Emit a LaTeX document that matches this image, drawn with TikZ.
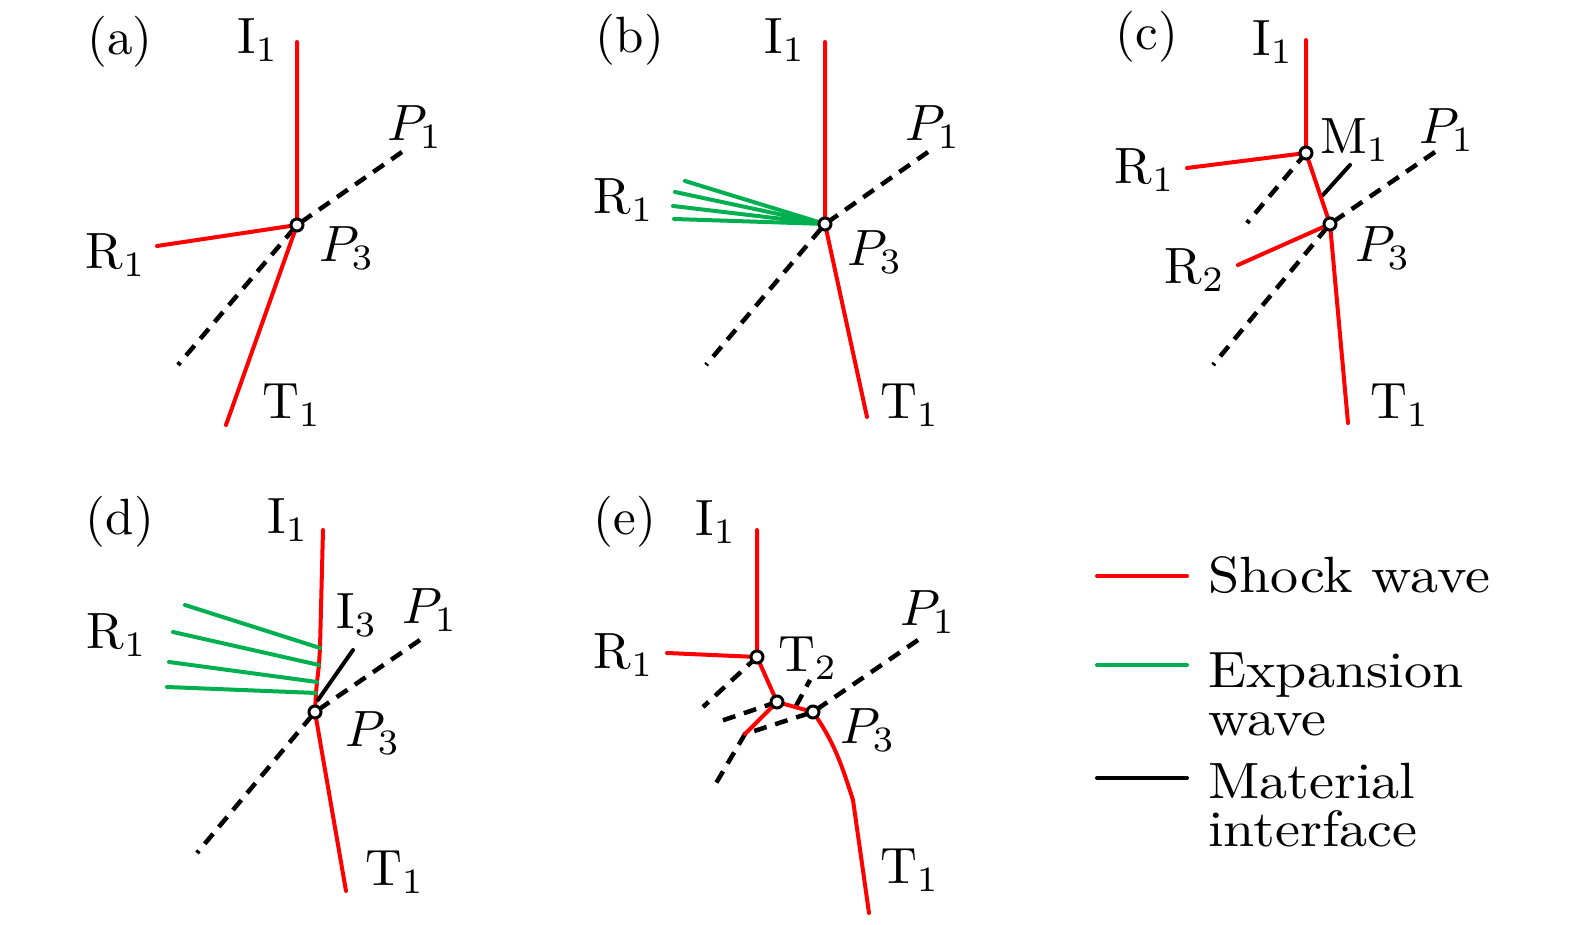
\documentclass[tikz,border=0pt]{standalone}
\usepackage{tikz}
\usetikzlibrary{positioning}
\definecolor{shockred}{RGB}{255,0,0}
\definecolor{fangreen}{RGB}{0,176,80}

\begin{document}
\begin{tikzpicture}[
  x=0.01cm, y=-0.01cm,
  lab/.style={inner sep=0pt, font=\fontsize{10}{9.4}\selectfont, scale=1.45, transform shape},
  keytext/.style={lab, xscale=1.1},
  shock/.style={draw=shockred, line width=0.04cm, line cap=round, line join=round},
  expan/.style={draw=fangreen, line width=0.04cm, line cap=round},
  mat/.style={draw=black, line width=0.04cm, line cap=round},
  pth/.style={draw=black, line width=0.045cm, dash pattern=on 0.13cm off 0.09cm},
  pt/.style={circle, draw, fill=white, line width=0.03cm, inner sep=0pt, minimum size=0.12cm}
]
  \useasboundingbox (0,0) rectangle (1575,925);

  % (a)
  \coordinate (aP3) at (297,225);
  \coordinate (aI) at (297,42);
  \coordinate (aR) at (157,246);
  \coordinate (aT) at (226,425);
  \coordinate (aPa) at (402,152);
  \coordinate (aPb) at (178,365);
  \draw[pth] (aPa) -- (aP3) -- (aPb);
  \draw[shock] (aI) -- (aP3) -- (aT);
  \draw[shock] (aR) -- (aP3);
  \node[pt] (aJ) at (aP3) {};
  \node[lab] (aTag) at (120,42) {(a)};
  \node[lab] (aIl) at (258,40) {I$_1$};
  \node[lab] (aP1l) at (415,127) {$P_1$};
  \node[lab] (aRl) at (116,255) {R$_1$};
  \node[lab] (aP3l) at (347,248) {$P_3$};
  \node[lab] (aTl) at (292,405) {T$_1$};

  % (b)
  \coordinate (bP3) at (825,224);
  \coordinate (bI) at (825,42);
  \coordinate (bT) at (867,417);
  \coordinate (bPa) at (928,152);
  \coordinate (bPb) at (706,365);
  \draw[pth] (bPa) -- (bP3) -- (bPb);
  \draw[shock] (bI) -- (bP3) -- (bT);
  \foreach \x/\y in {685/181, 675/192, 673/206, 674/219}
    \draw[expan] (\x,\y) -- (bP3);
  \node[pt] (bJ) at (bP3) {};
  \node[lab] (bTag) at (630,40) {(b)};
  \node[lab] (bIl) at (785,40) {I$_1$};
  \node[lab] (bP1l) at (933,127) {$P_1$};
  \node[lab] (bRl) at (624,200) {R$_1$};
  \node[lab] (bP3l) at (875,252) {$P_3$};
  \node[lab] (bTl) at (910,405) {T$_1$};

  % (c)
  \coordinate (cM1) at (1306,153);
  \coordinate (cP3) at (1330,224);
  \coordinate (cI) at (1306,40);
  \coordinate (cR1) at (1187,168);
  \coordinate (cR2) at (1238,265);
  \coordinate (cT) at (1348,423);
  \coordinate (cPa) at (1435,152);
  \coordinate (cPb) at (1213,365);
  \coordinate (cMd) at (1247,223);
  \coordinate (cMa) at (1323,195);
  \coordinate (cMb) at (1350,165);
  \draw[pth] (cPa) -- (cP3) -- (cPb);
  \draw[pth] (cM1) -- (cMd);
  \draw[mat] (cMa) -- (cMb);
  \draw[shock] (cI) -- (cM1) -- (cP3) -- (cT);
  \draw[shock] (cR1) -- (cM1);
  \draw[shock] (cR2) -- (cP3);
  \node[pt] (cJm) at (cM1) {};
  \node[pt] (cJp) at (cP3) {};
  \node[lab] (cTag) at (1147,37) {(c)};
  \node[lab] (cIl) at (1273,42) {I$_1$};
  \node[lab] (cMl) at (1355,140) {M$_1$};
  \node[lab] (cP1l) at (1447,130) {$P_1$};
  \node[lab] (cR1l) at (1145,170) {R$_1$};
  \node[lab] (cR2l) at (1195,270) {R$_2$};
  \node[lab] (cP3l) at (1383,248) {$P_3$};
  \node[lab] (cTl) at (1400,405) {T$_1$};

  % (d)
  \coordinate (dP3) at (315,712);
  \coordinate (dI) at (323,530);
  \coordinate (dF1) at (320,648);
  \coordinate (dF2) at (319,665);
  \coordinate (dF3) at (317,682);
  \coordinate (dF4) at (316,693);
  \coordinate (dT) at (346,891);
  \coordinate (dPa) at (420,640);
  \coordinate (dPb) at (197,853);
  \coordinate (dMa) at (318,700);
  \coordinate (dMb) at (353,650);
  \draw[pth] (dPa) -- (dP3) -- (dPb);
  \draw[shock] (dI) -- (dF1) -- (dF2) -- (dF3) -- (dF4) -- (dP3) -- (dT);
  \draw[expan] (185,605) -- (dF1);
  \draw[expan] (173,632) -- (dF2);
  \draw[expan] (169,662) -- (dF3);
  \draw[expan] (167,687) -- (dF4);
  \draw[mat] (dMa) -- (dMb);
  \node[pt] (dJ) at (dP3) {};
  \node[lab] (dTag) at (120,522) {(d)};
  \node[lab] (dIl) at (288,520) {I$_1$};
  \node[lab] (dI3l) at (357,615) {I$_3$};
  \node[lab] (dP1l) at (430,610) {$P_1$};
  \node[lab] (dRl) at (117,635) {R$_1$};
  \node[lab] (dP3l) at (373,733) {$P_3$};
  \node[lab] (dTl) at (395,872) {T$_1$};

  % (e)
  \coordinate (eA) at (757,657);
  \coordinate (eB) at (777,702);
  \coordinate (eP3) at (813,712);
  \coordinate (eC) at (745,734);
  \coordinate (eD) at (715,785);
  \coordinate (eI) at (757,530);
  \coordinate (eR) at (667,653);
  \coordinate (eK) at (853,800);
  \coordinate (eT) at (869,913);
  \coordinate (ePa) at (918,640);
  \coordinate (eAd) at (703,707);
  \coordinate (eBd) at (715,723);
  \coordinate (eMa) at (796,706);
  \coordinate (eMb) at (810,680);
  \draw[pth] (ePa) -- (eP3) -- (eC) -- (eD);
  \draw[pth] (eA) -- (eAd);
  \draw[pth] (eB) -- (eBd);
  \draw[pth] (eMa) -- (eMb);
  \draw[shock] (eI) -- (eA) -- (eB) -- (eP3) to[out=-55,in=108] (eK) -- (eT);
  \draw[shock] (eR) -- (eA);
  \draw[shock] (eB) -- (eC);
  \node[pt] (eJa) at (eA) {};
  \node[pt] (eJb) at (eB) {};
  \node[pt] (eJp) at (eP3) {};
  \node[lab] (eTag) at (625,522) {(e)};
  \node[lab] (eIl) at (716,522) {I$_1$};
  \node[lab] (eRl) at (624,655) {R$_1$};
  \node[lab] (eT2l) at (808,658) {T$_2$};
  \node[lab] (eP1l) at (928,612) {$P_1$};
  \node[lab] (eP3l) at (868,730) {$P_3$};
  \node[lab] (eTl) at (910,870) {T$_1$};

  % legend
  \coordinate (kS1) at (1097,576);
  \coordinate (kS2) at (1187,576);
  \coordinate (kE1) at (1097,665);
  \coordinate (kE2) at (1187,665);
  \coordinate (kM1) at (1097,778);
  \coordinate (kM2) at (1187,778);
  \draw[shock] (kS1) -- (kS2);
  \draw[expan] (kE1) -- (kE2);
  \draw[mat] (kM1) -- (kM2);
  \node[keytext, anchor=base west] (kShock) at (1207,593) {Shock wave};
  \node[keytext, anchor=north west, align=left] (kExp) at (1207,652) {Expansion\\wave};
  \node[keytext, anchor=north west, align=left] (kMat) at (1207,762) {Material\\interface};
\end{tikzpicture}
\end{document}
